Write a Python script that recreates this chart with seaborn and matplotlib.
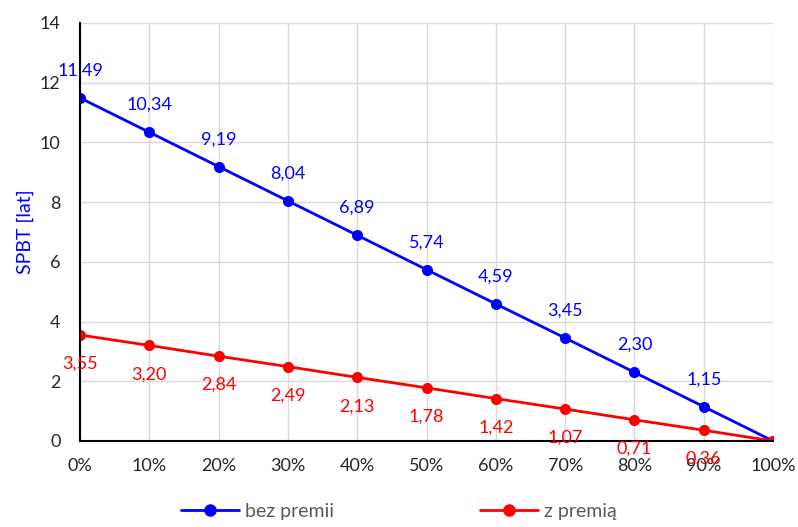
import pandas as pd
import matplotlib.pyplot as plt
import seaborn as sns
from matplotlib.ticker import FuncFormatter
from matplotlib.lines import Line2D

# udział (x) i SPBT w latach
udzial = [0, 10, 20, 30, 40, 50, 60, 70, 80, 90, 100]
bez_premii = [11.49, 10.34, 9.19, 8.04, 6.89, 5.74, 4.59, 3.45, 2.30, 1.15, 0.0]
z_premia = [3.55, 3.20, 2.84, 2.49, 2.13, 1.78, 1.42, 1.07, 0.71, 0.36, 0.0]

df = pd.DataFrame({
    'x': udzial * 2,
    'SPBT': bez_premii + z_premia,
    'seria': ['bez premii'] * len(udzial) + ['z premią'] * len(udzial),
})

sns.set_style('white')
plt.rcParams['font.family'] = ['Lato', 'DejaVu Sans']

fig = plt.figure(figsize=(7.98, 5.27), dpi=100)
ax = fig.add_axes([0.1003, 0.1632, 0.8684, 0.7932])

kolory = {'bez premii': '#0000FF', 'z premią': '#FF0000'}
sns.lineplot(data=df, x='x', y='SPBT', hue='seria', palette=kolory,
             marker='o', markersize=8, markeredgewidth=0, linewidth=2,
             ax=ax, legend=False)

# etykiety danych
for xv, yv in zip(udzial, bez_premii):
    if xv == 100:
        continue
    ax.annotate(f'{yv:.2f}'.replace('.', ','), (xv, yv), xytext=(0, 14),
                textcoords='offset points', ha='center', va='bottom',
                color='#0000FF', fontsize=13)
for xv, yv in zip(udzial, z_premia):
    if xv == 100:
        continue
    ax.annotate(f'{yv:.2f}'.replace('.', ','), (xv, yv), xytext=(0, -15),
                textcoords='offset points', ha='center', va='top',
                color='#FF0000', fontsize=13)

ax.set_xlim(0, 100)
ax.set_ylim(0, 14)
ax.set_xticks(udzial)
ax.set_yticks(range(0, 15, 2))
ax.xaxis.set_major_formatter(FuncFormatter(lambda v, p: f'{int(v)}%'))
ax.grid(True, color='#D9D9D9', linewidth=1)
ax.set_axisbelow(True)
for s in ['top', 'right']:
    ax.spines[s].set_visible(False)
for s in ['left', 'bottom']:
    ax.spines[s].set_color('black')
    ax.spines[s].set_linewidth(1.5)
ax.tick_params(axis='x', direction='out', length=5, width=1.5, color='black',
               labelsize=13, pad=7)
ax.tick_params(axis='y', length=0, labelsize=13, pad=14)
ax.set_xlabel('')
ax.set_ylabel('SPBT [lat]', color='#0000FF', fontsize=14, labelpad=4)

# legenda na dole
uchwyty = [Line2D([], [], color=kolory[k], marker='o', markersize=8, linewidth=2)
           for k in kolory]
leg = fig.legend(uchwyty, list(kolory), loc='lower center', ncol=2,
                 bbox_to_anchor=(0.5, -0.02), frameon=False, fontsize=14,
                 columnspacing=7.5, handlelength=3, handletextpad=0.3)
for t in leg.get_texts():
    t.set_color('#595959')

fig.savefig('out.png', dpi=100)
